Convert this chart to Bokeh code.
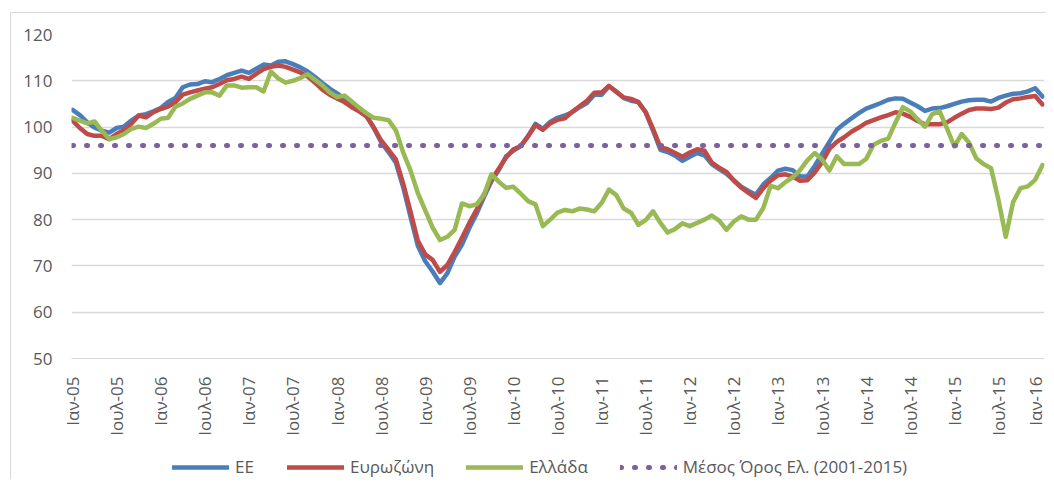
import math
from bokeh.plotting import figure
from bokeh.layouts import column
from bokeh.models import FixedTicker, Legend, LegendItem, Range1d
from bokeh.embed import file_html
from bokeh.resources import INLINE

# ---- data (monthly, Jan 2005 - Jan 2016) ----
tick_labels = ["Ιαν-05", "Ιουλ-05", "Ιαν-06", "Ιουλ-06", "Ιαν-07", "Ιουλ-07",
               "Ιαν-08", "Ιουλ-08", "Ιαν-09", "Ιουλ-09", "Ιαν-10", "Ιουλ-10",
               "Ιαν-11", "Ιουλ-11", "Ιαν-12", "Ιουλ-12", "Ιαν-13", "Ιουλ-13",
               "Ιαν-14", "Ιουλ-14", "Ιαν-15", "Ιουλ-15", "Ιαν-16"]

ee = [103.7, 102.6, 101.0, 99.9, 99.2, 98.8, 99.8, 100.1, 101.4, 102.5, 102.8, 103.4,
      104.1, 105.4, 106.3, 108.6, 109.2, 109.3, 109.9, 109.7, 110.4, 111.2, 111.7, 112.2,
      111.7, 112.6, 113.5, 113.3, 114.1, 114.2, 113.6, 112.9, 112.0, 110.8, 109.5, 108.3,
      107.3, 106.1, 104.6, 103.8, 102.5, 99.8, 96.7, 94.6, 92.3, 87.0, 80.6, 74.3,
      71.0, 68.8, 66.3, 68.4, 72.0, 74.6, 78.2, 81.3, 84.9, 88.3, 90.7, 93.7,
      94.9, 95.9, 98.1, 100.7, 99.6, 101.1, 102.0, 102.5, 103.2, 104.3, 105.2, 107.0,
      107.0, 108.8, 107.7, 106.3, 105.7, 105.4, 103.2, 99.2, 95.1, 94.6, 93.8, 92.7,
      93.6, 94.4, 93.9, 92.0, 90.9, 89.9, 88.5, 87.1, 86.2, 85.4, 87.6, 89.0,
      90.6, 91.0, 90.7, 89.4, 89.3, 91.6, 94.2, 96.8, 99.4, 100.7, 101.9, 103.0,
      104.0, 104.6, 105.2, 105.9, 106.2, 106.1, 105.3, 104.5, 103.5, 104.0, 104.1, 104.5,
      105.0, 105.5, 105.8, 105.9, 105.9, 105.5, 106.3, 106.8, 107.2, 107.3, 107.7, 108.4,
      106.6]

eurozone = [101.4, 99.8, 98.5, 98.1, 98.1, 97.4, 98.5, 99.3, 100.7, 102.5, 102.1, 103.2,
            103.9, 104.4, 105.4, 107.0, 107.5, 107.9, 108.3, 108.6, 109.3, 110.1, 110.4, 110.9,
            110.4, 111.5, 112.5, 113.0, 113.3, 113.0, 112.4, 111.8, 110.9, 109.6, 108.1, 107.0,
            106.2, 105.4, 104.3, 103.4, 102.3, 99.9, 97.1, 95.1, 93.0, 87.8, 81.7, 75.4,
            72.5, 71.3, 68.7, 70.2, 73.0, 76.1, 79.3, 82.2, 85.5, 88.6, 91.0, 93.4,
            95.2, 95.9, 98.0, 100.4, 99.4, 100.8, 101.6, 101.9, 103.3, 104.5, 105.7, 107.4,
            107.5, 108.9, 107.6, 106.4, 106.1, 105.4, 103.2, 99.6, 95.6, 95.2, 94.4, 93.6,
            94.5, 95.2, 94.9, 92.3, 91.2, 90.3, 88.4, 86.9, 85.8, 84.7, 86.8, 88.4,
            89.6, 89.8, 89.3, 88.4, 88.5, 90.2, 92.4, 95.3, 96.8, 97.8, 99.0, 99.9,
            100.9, 101.5, 102.1, 102.6, 103.2, 102.9, 102.2, 101.3, 100.6, 100.6, 100.6, 101.0,
            102.0, 102.9, 103.7, 104.0, 104.0, 103.9, 104.2, 105.3, 106.0, 106.2, 106.5, 106.7,
            104.9]

greece = [102.0, 101.4, 100.8, 101.2, 99.2, 97.4, 97.8, 98.5, 99.6, 100.1, 99.8, 100.7,
          101.8, 102.0, 104.4, 105.1, 106.1, 106.8, 107.5, 107.5, 106.8, 109.0, 109.0, 108.5,
          108.6, 108.6, 107.7, 112.0, 110.5, 109.6, 110.0, 110.6, 111.4, 110.2, 109.0, 107.5,
          106.5, 106.8, 105.5, 104.2, 103.0, 102.0, 101.8, 101.5, 99.3, 94.5, 90.6, 85.7,
          82.0, 78.3, 75.6, 76.3, 77.8, 83.5, 82.9, 83.3, 85.4, 89.8, 88.2, 86.9,
          87.1, 85.6, 84.0, 83.3, 78.6, 80.0, 81.5, 82.1, 81.8, 82.4, 82.2, 81.8,
          83.6, 86.5, 85.3, 82.4, 81.5, 78.9, 79.9, 81.8, 79.3, 77.2, 78.0, 79.2,
          78.6, 79.3, 80.0, 80.9, 79.8, 77.8, 79.6, 80.7, 80.0, 80.0, 82.5, 87.3,
          86.8, 88.1, 89.1, 90.7, 92.8, 94.4, 93.0, 90.6, 93.7, 92.0, 92.0, 92.0,
          93.1, 96.2, 97.0, 97.5, 101.0, 104.3, 103.4, 101.7, 100.1, 102.8, 103.4, 99.7,
          95.8, 98.5, 96.6, 93.2, 92.0, 91.1, 84.3, 76.3, 83.8, 86.8, 87.2, 88.6,
          91.8]

greece_mean_2001_2015 = 96.0

series_names = ["ΕΕ", "Ευρωζώνη", "Ελλάδα", "Μέσος Όρος Ελ. (2001-2015)"]

# ---- derived ----
months = list(range(len(ee)))
mean_line = [greece_mean_2001_2015] * len(months)
tick_positions = list(range(0, len(months), 6))
series = [ee, eurozone, greece, mean_line]

FONT = "Open Sans"
TXT = "#595959"
GRID = "#d9d9d9"
COLORS = ["#4a7ebb", "#be4b48", "#98b954", "#7d60a0"]
STYLES = [dict(line_width=4.5, line_join="round", line_cap="round"),
          dict(line_width=4.5, line_join="round", line_cap="round"),
          dict(line_width=4.5, line_join="round", line_cap="round"),
          dict(line_width=5, line_dash="1 13", line_cap="round")]

p = figure(width=1035, height=433, output_backend="svg", toolbar_location=None,
           x_range=Range1d(-0.14, 132.27), y_range=Range1d(50, 120),
           min_border_left=60, min_border_right=2, min_border_top=21,
           min_border_bottom=88)
p.outline_line_color = None
p.background_fill_color = "white"

for vals, col, st in zip(series, COLORS, STYLES):
    p.line(months, vals, line_color=col, **st)

# axes
p.xaxis.ticker = FixedTicker(ticks=tick_positions)
p.xaxis.major_label_overrides = {pos: lab for pos, lab in zip(tick_positions, tick_labels)}
p.xaxis.major_label_orientation = math.pi / 2
p.xaxis.major_tick_line_color = None
p.xaxis.minor_tick_line_color = None
p.xaxis.axis_line_color = GRID
p.xaxis.major_label_standoff = 12
p.xaxis.major_label_text_font = FONT
p.xaxis.major_label_text_font_size = "17px"
p.xaxis.major_label_text_color = TXT

p.yaxis.ticker = FixedTicker(ticks=list(range(50, 121, 10)))
p.yaxis.major_tick_line_color = None
p.yaxis.minor_tick_line_color = None
p.yaxis.axis_line_color = None
p.yaxis.major_label_standoff = 13
p.yaxis.major_label_text_font = FONT
p.yaxis.major_label_text_font_size = "17px"
p.yaxis.major_label_text_color = TXT

p.xgrid.grid_line_color = None
p.ygrid.ticker = FixedTicker(ticks=list(range(50, 121, 10)))
p.ygrid.grid_line_color = GRID
p.ygrid.grid_line_width = 1.5

# ---- legend strip below the chart: same series, y-range chosen so the
#      lines fall outside the strip and only the legend keys show ----
lg = figure(width=1035, height=33, output_backend="svg", toolbar_location=None,
            x_range=Range1d(-0.14, 132.27), y_range=Range1d(0, 1),
            x_axis_location=None, y_axis_location=None,
            min_border_left=0, min_border_right=0, min_border_top=0, min_border_bottom=0)
lg.outline_line_color = None
lg.grid.visible = False
keys = [lg.line(months, vals, line_color=col, **st)
        for vals, col, st in zip(series, COLORS, STYLES)]

legend = Legend(items=[LegendItem(label=name, renderers=[k])
                       for name, k in zip(series_names, keys)],
                location=(101, 1), orientation="horizontal",
                glyph_width=57, glyph_height=20, label_standoff=6, spacing=32,
                padding=0, margin=0, border_line_color=None,
                background_fill_alpha=0,
                label_text_font=FONT, label_text_font_size="17px",
                label_text_color=TXT)
lg.add_layout(legend)

layout = column(p, lg, spacing=0)
layout.margin = (12, 0, 0, 10)
layout.styles = {"border-left": "1px solid #d9d9d9", "border-top": "1px solid #d9d9d9"}

open("out.html", "w").write(file_html(layout, INLINE))
